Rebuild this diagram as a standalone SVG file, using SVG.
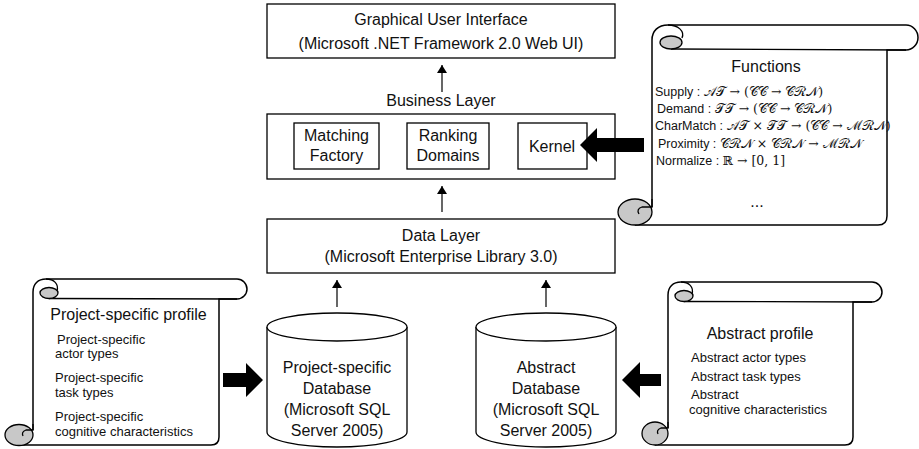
<svg xmlns="http://www.w3.org/2000/svg" width="919" height="449" viewBox="0 0 919 449">
<style>
.box{fill:#fff;stroke:#000;stroke-width:1.3}
.t{font-family:"Liberation Sans",Arial,sans-serif;font-size:16px;fill:#111;text-anchor:middle}
.s{font-family:"Liberation Sans",Arial,sans-serif;font-size:13px;fill:#111}
.f{font-family:"Liberation Sans",Arial,sans-serif;font-size:12.5px;fill:#111}
.m{font-family:"DejaVu Serif","Liberation Serif",serif;font-size:12.5px}
.scroll{fill:#fff;stroke:#000;stroke-width:1.5}
.curl{fill:#c8c8c8;stroke:#000;stroke-width:1.3}
.ln{fill:none;stroke:#000;stroke-width:1.3}
.conn{stroke:#000;stroke-width:1.2;fill:none}
.thick{fill:#000}
</style>
<defs>
<marker id="ah" markerWidth="8" markerHeight="10" refX="8" refY="5" orient="auto" markerUnits="userSpaceOnUse">
<path d="M0,0 L8,5 L0,10 Z" fill="#000"/>
</marker>
</defs>

<g id="gui">
<rect class="box" x="267" y="4" width="348" height="54"/>
<text class="t" x="441" y="25" font-size="17.5">Graphical User Interface</text>
<text class="t" x="441" y="49" font-size="17.5">(Microsoft .NET Framework 2.0 Web UI)</text>
</g>

<g id="business">
<text class="t" x="441" y="106">Business Layer</text>
<rect class="box" x="267" y="114" width="348" height="65"/>
</g>
<g id="matching">
<rect class="box" x="294" y="123" width="85" height="46"/>
<text class="t" x="336.5" y="141" font-size="16.5">Matching</text>
<text class="t" x="336.5" y="161" font-size="16.5">Factory</text>
</g>
<g id="ranking">
<rect class="box" x="407" y="123" width="82" height="46"/>
<text class="t" x="448" y="141" font-size="16.5">Ranking</text>
<text class="t" x="448" y="161" font-size="16.5">Domains</text>
</g>
<g id="kernel">
<rect class="box" x="518" y="123" width="69" height="46"/>
<text class="t" x="552" y="152" font-size="17">Kernel</text>
</g>

<g id="data">
<rect class="box" x="267" y="219" width="348" height="54"/>
<text class="t" x="441" y="241" font-size="16.5">Data Layer</text>
<text class="t" x="441" y="262" font-size="16.5">(Microsoft Enterprise Library 3.0)</text>
</g>

<g id="db-project">
<path class="box" d="M267,327 L267,432 A70,15 0 0 0 407,432 L407,327"/>
<ellipse class="box" cx="337" cy="327" rx="70" ry="14"/>
<text class="t" x="337" y="373">Project-specific</text>
<text class="t" x="337" y="394">Database</text>
<text class="t" x="337" y="415">(Microsoft SQL</text>
<text class="t" x="337" y="436">Server 2005)</text>
</g>

<g id="db-abstract">
<path class="box" d="M476,327 L476,432 A70,15 0 0 0 616,432 L616,327"/>
<ellipse class="box" cx="546" cy="327" rx="70" ry="14"/>
<text class="t" x="546" y="373">Abstract</text>
<text class="t" x="546" y="394">Database</text>
<text class="t" x="546" y="415">(Microsoft SQL</text>
<text class="t" x="546" y="436">Server 2005)</text>
</g>

<g id="functions">
<path class="scroll" d="M652,207 L652,40 C652,31 658,25 668,25 L906,25 A12,12.5 0 0 1 906,50 L887,50 L887,216 Q887,225 878,225 L635,225"/>
<path class="ln" d="M671,49 L906,50"/>
<path class="ln" d="M668,25 C678,25 685,31 682,38"/>
<ellipse class="curl" cx="671" cy="42.5" rx="11" ry="6.5"/>
<ellipse class="curl" cx="635" cy="212" rx="17" ry="13"/>
<path class="ln" d="M652,199 L652,207 L642,207 Q636,209 639,214"/>
<text class="t" x="766" y="72">Functions</text>
<text class="f" x="655" y="96">Supply : <tspan class="m">𝒜𝒯 → (𝒞𝒞 → 𝒞ℛ𝒩)</tspan></text>
<text class="f" x="657" y="113">Demand : <tspan class="m">𝒯𝒯 → (𝒞𝒞 → 𝒞ℛ𝒩)</tspan></text>
<text class="f" x="655" y="130">CharMatch : <tspan class="m" font-size="12">𝒜𝒯 × 𝒯𝒯 → (𝒞𝒞 → ℳℛ𝒩)</tspan></text>
<text class="f" x="658" y="148">Proximity : <tspan class="m">𝒞ℛ𝒩 × 𝒞ℛ𝒩 → ℳℛ𝒩</tspan></text>
<text class="f" x="656" y="165">Normalize : <tspan class="m">ℝ → [0, 1]</tspan></text>
<text class="t" x="757" y="207" font-size="13">...</text>
</g>

<g id="project-profile">
<path class="scroll" d="M33,430 L33,292 C33,284 38,279 46,279 L237,279 A10,10 0 0 1 237,299 L219,299 L219,437 Q219,445 211,445 L19,445"/>
<path class="ln" d="M49,298.5 L237,299"/>
<path class="ln" d="M46,279 C54,279 59,284 57,291"/>
<ellipse class="curl" cx="49" cy="293" rx="9" ry="5.5"/>
<ellipse class="curl" cx="19" cy="435" rx="14" ry="10.5"/>
<path class="ln" d="M33,424 L33,430 L26,430 Q21,432 23,436"/>
<text class="t" x="128.5" y="320">Project-specific profile</text>
<text class="s" x="57" y="344">Project-specific</text>
<text class="s" x="55" y="358">actor types</text>
<text class="s" x="55" y="382">Project-specific</text>
<text class="s" x="55" y="397">task types</text>
<text class="s" x="55" y="421">Project-specific</text>
<text class="s" x="55" y="436">cognitive characteristics</text>
</g>

<g id="abstract-profile">
<path class="scroll" d="M668,428 L668,295 C668,287 673,282 681,282 L872,282 A10,10 0 0 1 872,302 L853,302 L853,437 Q853,445 845,445 L655,445"/>
<path class="ln" d="M684,301.5 L872,302"/>
<path class="ln" d="M681,282 C689,282 694,287 692,294"/>
<ellipse class="curl" cx="684" cy="296" rx="9" ry="5.5"/>
<ellipse class="curl" cx="655" cy="433.5" rx="13" ry="11.5"/>
<path class="ln" d="M668,422 L668,428 L661,428 Q656,430 658,434"/>
<text class="t" x="760" y="339">Abstract profile</text>
<text class="s" x="691" y="362">Abstract actor types</text>
<text class="s" x="691" y="381">Abstract task types</text>
<text class="s" x="691" y="399">Abstract</text>
<text class="s" x="689" y="414">cognitive characteristics</text>
</g>

<g id="connectors">
<line class="conn" x1="442" y1="92" x2="442" y2="65" marker-end="url(#ah)"/>
<line class="conn" x1="442" y1="212" x2="442" y2="186" marker-end="url(#ah)"/>
<line class="conn" x1="337" y1="307" x2="337" y2="280" marker-end="url(#ah)"/>
<line class="conn" x1="546" y1="307" x2="546" y2="280" marker-end="url(#ah)"/>
<polygon class="thick" points="644,138 597,138 597,128 580,145 597,162 597,152 644,152"/>
<polygon class="thick" points="223,373 246,373 246,363 263,380 246,397 246,387 223,387"/>
<polygon class="thick" points="661,374 640,374 640,362 622,380 640,398 640,386 661,386"/>
</g>
</svg>
